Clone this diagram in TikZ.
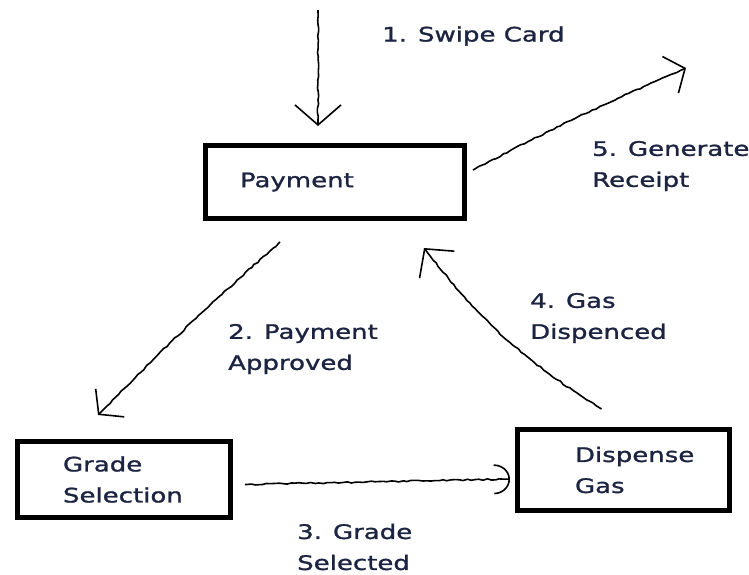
\documentclass[tikz,border=0pt]{standalone}
\usepackage{fontspec}
\setmainfont[FakeStretch=1.3,FakeBold=1.3]{DejaVu Sans}
\usetikzlibrary{arrows.meta,calc,decorations.pathmorphing}
\definecolor{ink}{RGB}{28,36,66}
\hfuzz=100pt
\begin{document}
\begin{tikzpicture}[x=1pt,y=-1pt,font=\fontsize{20}{31}\selectfont,
    box/.style={draw,line width=5pt,align=left,text=ink},
    lbl/.style={anchor=west,align=left,text=ink,inner sep=0pt},
    flow/.style={line width=1.6pt,decorate,decoration={random steps,segment length=4pt,amplitude=0.7pt,pre length=2pt,post length=6pt}}]
        \pgfmathsetseed{7}
        \useasboundingbox (0,0) rectangle (749,574);
        \node[box,minimum width=259pt,minimum height=73pt,text width=190pt] (pay) at (335,182) {Payment};
        \node[box,minimum width=213pt,minimum height=76pt,text width=122pt] (grade) at (124,479.5) {Grade\\Selection};
        \node[box,minimum width=212pt,minimum height=81pt,text width=97pt] (disp) at (623.5,470) {Dispense\\Gas};
        \coordinate (card) at (318,10);
        \coordinate (rcpt) at (686,68);
        \draw[flow,-{Straight Barb[length=20pt,width=46pt]}] (card) -- ($(pay.north)+(-17,-17)$);
        \draw[flow,-{Straight Barb[length=16pt,width=40pt]}] ($(pay.south)+(-55,21)$) to[bend right=2] ($(grade.north)+(-26,-24)$);
        \draw[flow,-{Arc Barb[length=16pt,width=30pt]}] ($(grade.east)+(12,5)$) -- ($(disp.west)+(-5,9)$);
        \draw[flow,-{Straight Barb[length=20pt,width=44pt]}] ($(disp.north)+(-22,-18)$) to[bend left=10] ($(pay.south)+(89,27)$);
        \draw[flow,-{Straight Barb[length=16pt,width=40pt]}] ($(pay.east)+(6,-12)$) to[bend left=2] (rcpt);
        \node[lbl] (swipe) at (382,36) {1. Swipe Card};
        \node[lbl] (gen) at (592,166) {5. Generate\\Receipt};
        \node[lbl] (appr) at (228,349) {2. Payment\\Approved};
        \node[lbl] (sel) at (297,547) {3. Grade\\Selected};
        \node[lbl] (gasd) at (530,318) {4. Gas\\Dispenced};
\end{tikzpicture}
\end{document}
